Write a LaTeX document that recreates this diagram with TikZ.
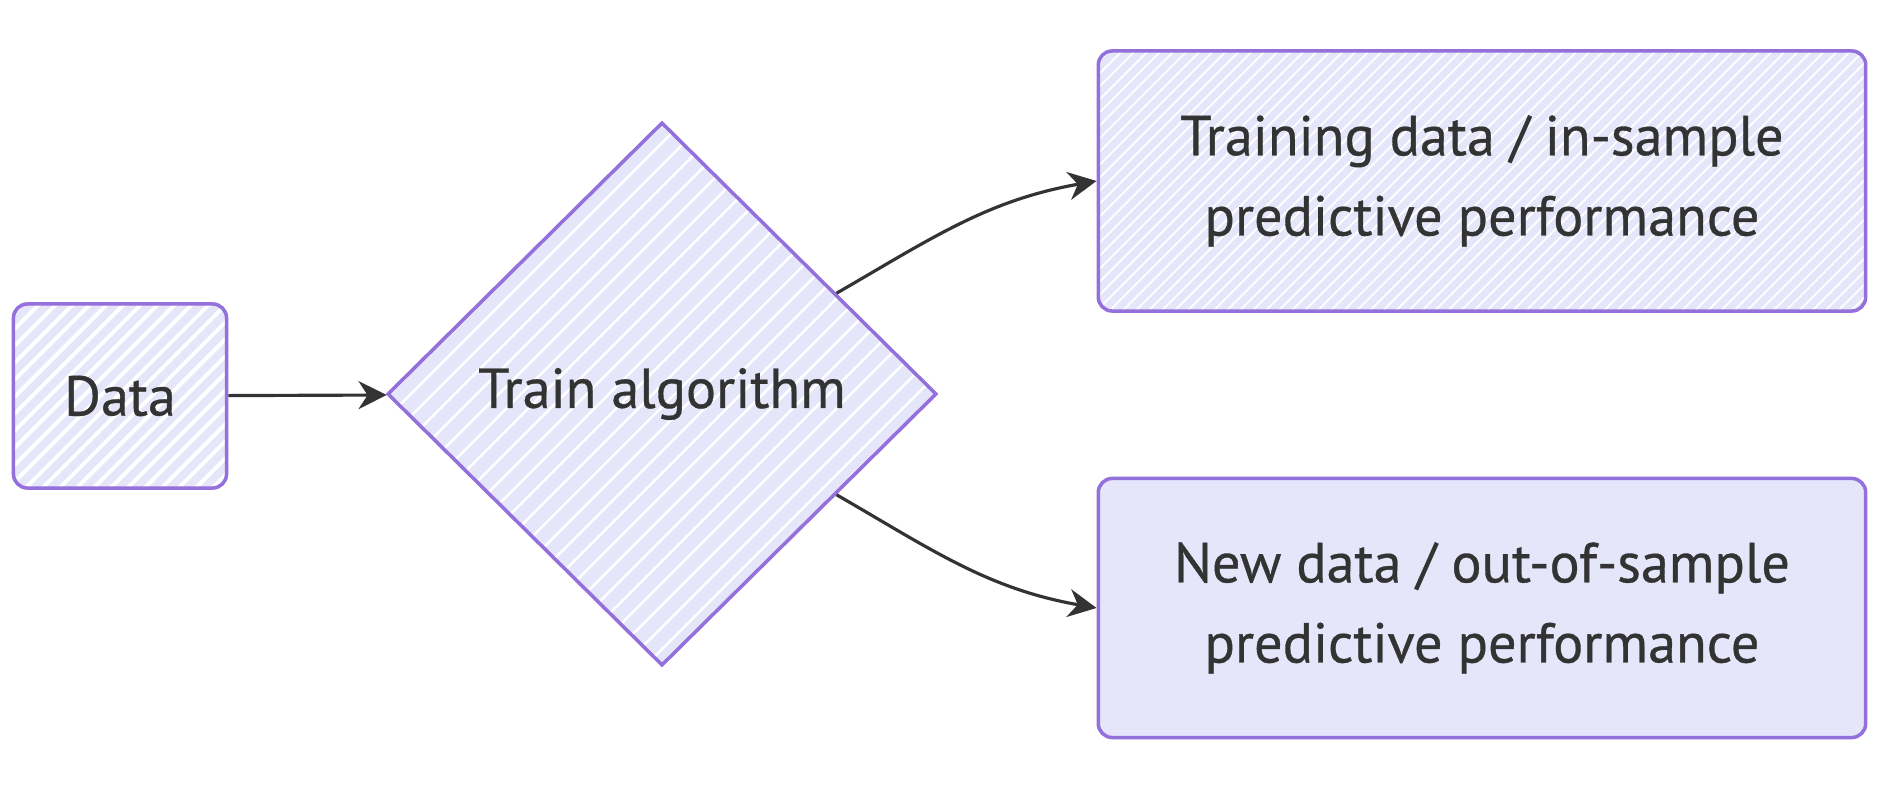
\documentclass[tikz,border=0pt]{standalone}
\usepackage{fontspec}
\setmainfont{PT Sans}
\newfontfamily\labelfont{PT Sans}[FakeBold=0.6]
\usetikzlibrary{shapes.geometric,arrows.meta}
\definecolor{boxfill}{HTML}{E6E6FA}
\definecolor{boxline}{HTML}{9370DB}
\definecolor{ink}{HTML}{333333}
\begin{document}
\begin{tikzpicture}[x=0.01cm,y=-0.01cm,
	box/.style={draw=boxline,fill=boxfill,line width=1pt,rounded corners=4pt,text=ink,
		font=\labelfont\fontsize{16}{22.8}\selectfont,align=center,inner sep=0pt},
	hatch/.style n args={2}{path picture={
		\foreach \k in {0,...,140}
			\draw[white,line width=#1] ([xshift=\k*#2-6cm]path picture bounding box.south west) -- ++(6cm,6cm);}},
	link/.style={draw=ink,line width=0.9pt,-{Stealth[length=8pt,width=8pt]}}]
	\useasboundingbox (0,0) rectangle (1890,789);
	\node[box,hatch={1.1pt}{1.7mm},minimum width=2.13cm,minimum height=1.84cm] (data) at (120,396) {Data};
	\node[box,diamond,rounded corners=0pt,hatch={0.7pt}{2.2mm},minimum width=5.49cm,minimum height=5.43cm] (train) at (662,394) {Train algorithm};
	\node[box,hatch={0.5pt}{1.3mm},minimum width=7.67cm,minimum height=2.6cm] (insample) at (1482,181) {Training data / in-sample\\predictive performance};
	\node[box,minimum width=7.67cm,minimum height=2.59cm] (outsample) at (1482,608) {New data / out-of-sample\\predictive performance};
	\draw[link] (data) -- (train);
	\draw[link] (train) to[out=30,in=190] (insample.west);
	\draw[link] (train) to[out=-30,in=170] (outsample.west);
\end{tikzpicture}
\end{document}
